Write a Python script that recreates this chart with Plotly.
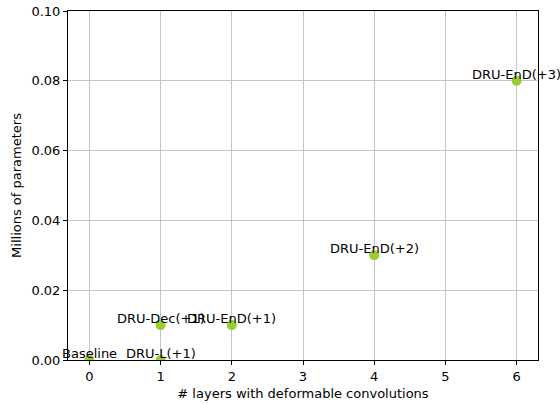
import plotly.graph_objects as go

labels = ["Baseline", "DRU-L(+1)", "DRU-Dec(+1)", "DRU-EnD(+1)", "DRU-EnD(+2)", "DRU-EnD(+3)"]
layers = [0, 1, 1, 2, 4, 6]
params = [0.0, 0.0, 0.01, 0.01, 0.03, 0.08]
x_ticks = [0, 1, 2, 3, 4, 5, 6]
y_ticks = [0.0, 0.02, 0.04, 0.06, 0.08, 0.10]

font = dict(family="DejaVu Sans", size=13, color="black")

fig = go.Figure()
fig.add_trace(go.Scatter(
    x=layers, y=params, mode="markers",
    marker=dict(color="#9acd32", size=10),
    cliponaxis=True, showlegend=False, hoverinfo="skip",
))
for lab, xv, yv in zip(labels, layers, params):
    fig.add_annotation(x=xv, y=yv, text=lab, showarrow=False,
                       xanchor="center", yanchor="bottom", font=font, yshift=-3)

axis_common = dict(
    showline=True, linecolor="black", linewidth=1, mirror=True,
    showgrid=True, gridcolor="#c4c4c4", gridwidth=1,
    ticks="outside", ticklen=4, tickcolor="black", tickwidth=1,
    zeroline=False, tickfont=font, automargin=False,
)
fig.update_xaxes(range=[-0.3, 6.3], tickvals=x_ticks, ticktext=[str(v) for v in x_ticks],
                 title=dict(text="# layers with deformable convolutions", font=font, standoff=6),
                 **axis_common)
fig.update_yaxes(range=[0, 0.1], tickvals=y_ticks, ticktext=[f"{v:.2f}" for v in y_ticks],
                 title=dict(text="Millions of parameters", font=font, standoff=6),
                 **axis_common)
fig.update_layout(
    width=560, height=404,
    margin=dict(l=68, r=22, t=11, b=44),
    plot_bgcolor="white", paper_bgcolor="white",
    font=font,
)
fig.write_html("out.html", config={"displayModeBar": False},
               post_script="document.body.style.margin='0';")
